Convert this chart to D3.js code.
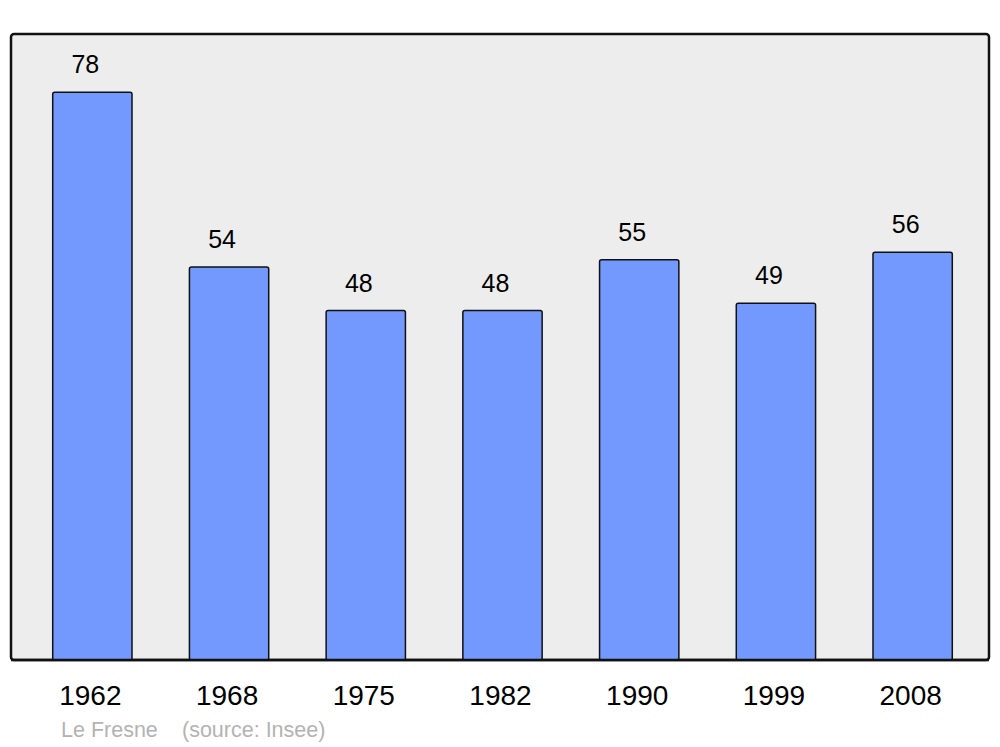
<!DOCTYPE html>
<html>
<head>
<meta charset="utf-8">
<script src="https://cdn.jsdelivr.net/npm/d3@7"></script>
<style>
  html, body { margin: 0; padding: 0; background: #fff; }
  svg { display: block; font-family: 'Liberation Sans', Arial, sans-serif; }
</style>
</head>
<body>
<div id="chart"></div>
<script>
const years = ['1962', '1968', '1975', '1982', '1990', '1999', '2008']
const population = [78, 54, 48, 48, 55, 49, 56]
const caption = 'Le Fresne'
const source = '(source: Insee)'

const W = 1000
const H = 747
const panel = { x: 11, y: 34, w: 978, h: 626 }

const svg = d3.select('#chart').append('svg')
  .attr('width', W)
  .attr('height', H)

// grey plot panel
svg.append('rect')
  .attr('x', panel.x).attr('y', panel.y)
  .attr('width', panel.w).attr('height', panel.h)
  .attr('rx', 3).attr('ry', 3)
  .attr('fill', '#ededed')
  .attr('stroke', '#111')
  .attr('stroke-width', 2.5)

const x = d3.scaleBand()
  .domain(years)
  .range([24, 981])
  .paddingInner(0.42)
  .paddingOuter(0.21)

const y = d3.scaleLinear()
  .domain([0, 86])
  .range([panel.y + panel.h, panel.y])

const data = years.map((yr, i) => ({ year: yr, value: population[i] }))

const bars = svg.selectAll('.bar').data(data).enter()
  .append('g').attr('class', 'bar')

bars.append('rect')
  .attr('x', d => x(d.year))
  .attr('y', d => y(d.value))
  .attr('width', x.bandwidth())
  .attr('height', d => y(0) - y(d.value))
  .attr('rx', 2).attr('ry', 2)
  .attr('fill', '#7399ff')
  .attr('stroke', '#111')
  .attr('stroke-width', 1.5)

// value labels above bars
bars.append('text')
  .text(d => d.value)
  .attr('x', d => x(d.year) + x.bandwidth() / 2 - 7)
  .attr('y', d => y(d.value) - 19)
  .attr('text-anchor', 'middle')
  .attr('font-size', 25)
  .attr('fill', '#000')

// redraw panel bottom edge over the bar bottoms
svg.append('line')
  .attr('x1', panel.x).attr('x2', panel.x + panel.w)
  .attr('y1', panel.y + panel.h).attr('y2', panel.y + panel.h)
  .attr('stroke', '#111')
  .attr('stroke-width', 2.5)

// year axis labels
svg.append('g').selectAll('text').data(years).enter()
  .append('text')
  .text(d => d)
  .attr('x', d => x(d) + x.bandwidth() / 2 - 2)
  .attr('y', 705)
  .attr('text-anchor', 'middle')
  .attr('font-size', 28)
  .attr('fill', '#000')

svg.append('text')
  .attr('x', 61).attr('y', 737)
  .attr('font-size', 21.5)
  .attr('fill', '#b3b3b3')
  .text(caption)

svg.append('text')
  .attr('x', 182).attr('y', 737)
  .attr('font-size', 21.5)
  .attr('fill', '#b3b3b3')
  .text(source)
</script>
</body>
</html>
